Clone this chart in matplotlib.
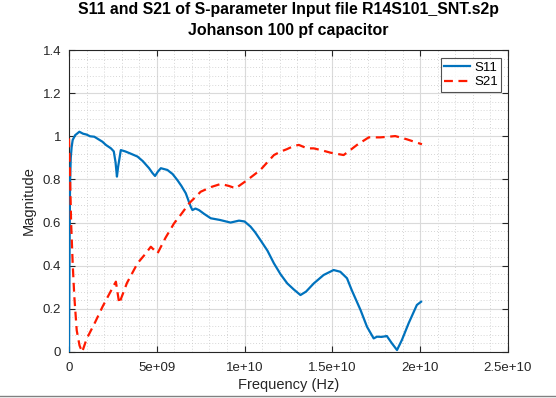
import matplotlib
matplotlib.use("Agg")
import matplotlib.pyplot as plt
from matplotlib.ticker import MultipleLocator
from matplotlib.lines import Line2D

plt.rcParams['font.family'] = ['Liberation Sans', 'DejaVu Sans']

# S11 (frequency in GHz, magnitude)
s11_f = [0.0, 0.03, 0.06, 0.1, 0.15, 0.21, 0.35, 0.59, 0.8, 1.0, 1.2, 1.44, 1.7, 1.9, 2.1, 2.39, 2.55,
         2.65, 2.73, 2.8, 2.95, 3.2, 3.5, 3.9, 4.2, 4.56, 4.75, 4.9, 5.05, 5.23, 5.6, 5.9, 6.17, 6.4,
         6.65, 6.93, 7.03, 7.2, 7.4, 7.7, 8.07, 8.6, 9.2, 9.68, 10.0, 10.34, 10.6, 10.9, 11.3,
         11.67, 12.05, 12.43, 12.8, 13.18, 13.5, 13.94, 14.5, 15.07, 15.45, 15.83, 16.1, 16.6,
         16.97, 17.35, 17.54, 17.8, 18.1, 18.39, 18.68, 18.96, 19.34, 19.6, 19.81, 20.05]
s11_m = [0.0, 0.45, 0.78, 0.9, 0.95, 0.983, 1.005, 1.021, 1.012, 1.008, 1.0, 0.998, 0.985, 0.975, 0.96, 0.944, 0.93,
         0.88, 0.813, 0.86, 0.936, 0.93, 0.92, 0.906, 0.885, 0.852, 0.83, 0.816, 0.835, 0.852, 0.844, 0.825, 0.797, 0.77,
         0.736, 0.674, 0.658, 0.665, 0.658, 0.64, 0.62, 0.612, 0.6, 0.609, 0.605, 0.581, 0.555, 0.519, 0.47,
         0.411, 0.36, 0.318, 0.29, 0.264, 0.28, 0.318, 0.357, 0.38, 0.372, 0.342, 0.287, 0.195,
         0.117, 0.063, 0.071, 0.07, 0.074, 0.04, 0.009, 0.056, 0.133, 0.18, 0.218, 0.233]

# S21 (frequency in GHz, magnitude)
s21_f = [0.0, 0.05, 0.12, 0.21, 0.3, 0.44, 0.6, 0.75, 1.0, 1.5, 1.91, 2.3, 2.67, 2.86, 3.3, 3.9, 4.3, 4.66,
         5.04, 5.5, 5.98, 6.4, 6.84, 7.5, 8.1, 8.64, 9.1, 9.49, 10.15, 10.9, 11.3, 11.67, 12.05, 12.4,
         12.8, 13.09, 13.56, 13.94, 14.4, 14.89, 15.64, 16.0, 16.4, 17.07, 17.73, 18.2, 18.58, 19.24, 20.1]
s21_m = [0.99, 0.85, 0.6, 0.41, 0.26, 0.1, 0.03, 0.0, 0.06, 0.14, 0.21, 0.27, 0.326, 0.225, 0.32, 0.411, 0.45, 0.488,
         0.457, 0.53, 0.596, 0.64, 0.689, 0.743, 0.765, 0.779, 0.77, 0.759, 0.797, 0.844, 0.88, 0.913, 0.929, 0.94,
         0.955, 0.96, 0.944, 0.944, 0.935, 0.924, 0.913, 0.935, 0.96, 0.995, 0.995, 0.998, 1.001, 0.986, 0.963]

x_ticks = [0, 5e9, 1e10, 1.5e10, 2e10, 2.5e10]
x_ticklabels = ["0", "5e+09", "1e+10", "1.5e+10", "2e+10", "2.5e+10"]
y_ticks = [0, 0.2, 0.4, 0.6, 0.8, 1.0, 1.2, 1.4]
y_ticklabels = ["0", "0.2", "0.4", "0.6", "0.8", "1", "1.2", "1.4"]

fig = plt.figure(figsize=(5.56, 3.98), dpi=100)
ax = fig.add_axes([69/556, 1 - 352/398, (508-69)/556, (352-50)/398])

ax.plot([f*1e9 for f in s11_f], s11_m, color='#0072BD', lw=1.6, label='S11', zorder=3)
ax.plot([f*1e9 for f in s21_f], s21_m, color='#FF1A00', lw=1.6, ls=(0, (4, 2.5)), label='S21', zorder=3)

ax.set_xlim(0, 2.5e10)
ax.set_ylim(0, 1.4)
ax.set_xticks(x_ticks)
ax.set_xticklabels(x_ticklabels)
ax.set_yticks(y_ticks)
ax.set_yticklabels(y_ticklabels)
ax.xaxis.set_minor_locator(MultipleLocator(1e9))
ax.yaxis.set_minor_locator(MultipleLocator(0.04))
ax.grid(which='major', color='#dadada', lw=0.8, ls='-')
ax.grid(which='minor', color='#c8c8c8', lw=0.6, ls=(0, (1, 2.5)))
ax.set_axisbelow(True)
ax.tick_params(which='both', direction='in', top=True, right=True, labelsize=9.5, colors='#262626', length=4)
ax.tick_params(axis='x', pad=7)
ax.tick_params(axis='y', pad=5.5)
ax.tick_params(which='minor', length=0)
for s in ax.spines.values():
    s.set_color('#262626')
    s.set_linewidth(0.8)

ax.set_xlabel('Frequency (Hz)', fontsize=10.5, color='#262626', labelpad=3)
ax.set_ylabel('Magnitude', fontsize=10.5, color='#262626', labelpad=5)

xc = (69 + 508) / 2 / 556
fig.text(xc, 1 - 9.5/398, 'S11 and S21 of S-parameter Input file R14S101_SNT.s2p',
         ha='center', va='center', fontsize=11.4, fontweight='bold')
fig.text(xc, 1 - 30.5/398, 'Johanson 100 pf capacitor',
         ha='center', va='center', fontsize=11.4, fontweight='bold')

leg = ax.legend(loc='upper right', bbox_to_anchor=(0.985, 0.972), fontsize=9.5, frameon=True,
                fancybox=False, handlelength=2.0, handletextpad=0.3, borderpad=0.25,
                labelspacing=0.15, borderaxespad=0)
leg.get_frame().set_edgecolor('#262626')
leg.get_frame().set_linewidth(0.8)

fig.add_artist(Line2D([0, 1], [1 - 395.5/398, 1 - 395.5/398], color='#808080', lw=1, transform=fig.transFigure))

fig.savefig('out.png', dpi=100)
